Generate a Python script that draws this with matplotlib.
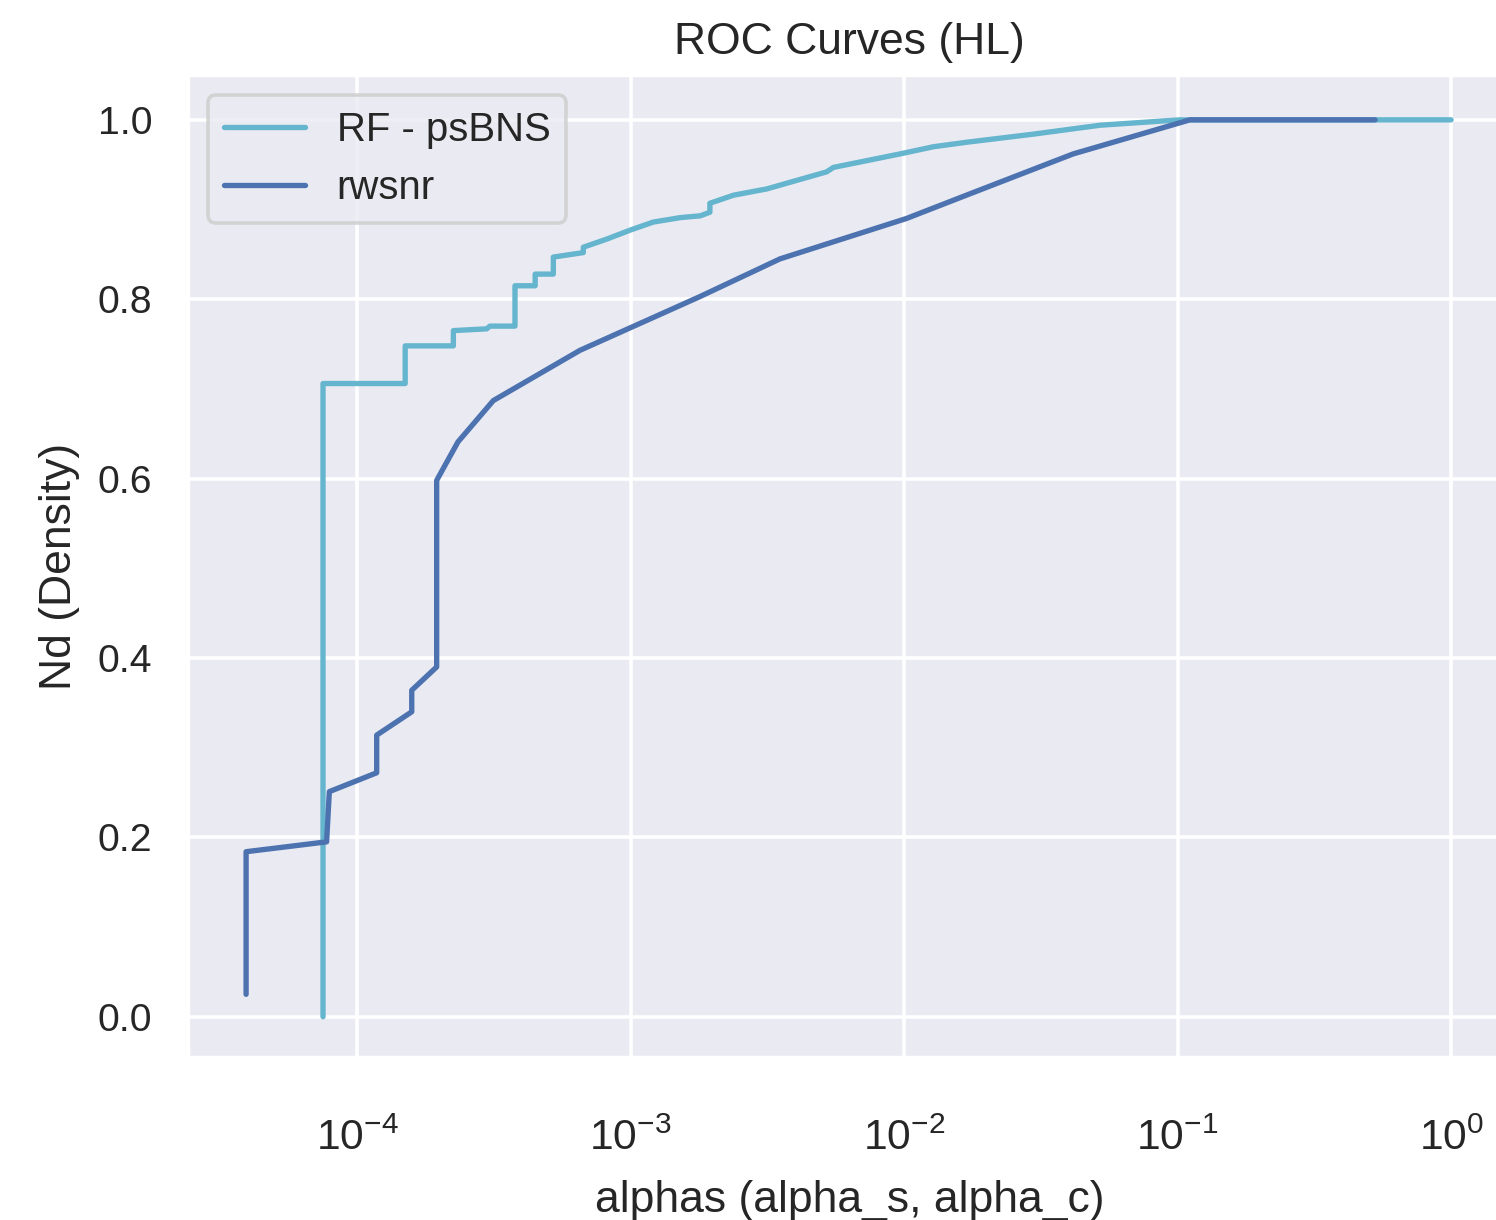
"""
ROC curves (HL): RF - psBNS vs rwsnr
"""
import numpy as np
import matplotlib
matplotlib.use('Agg')
import matplotlib.pyplot as plt
import seaborn as sns

# RF - psBNS curve (alpha, Nd)
rf_alpha = [7.51e-5, 7.51e-5, 1.50e-4, 1.50e-4, 2.25e-4, 2.25e-4, 2.98e-4, 3.06e-4,
            3.78e-4, 3.78e-4, 4.48e-4, 4.48e-4, 5.22e-4, 5.22e-4, 6.72e-4, 6.72e-4,
            8.18e-4, 9.96e-4, 1.21e-3, 1.52e-3, 1.80e-3, 1.95e-3, 1.95e-3, 2.38e-3,
            3.15e-3, 5.21e-3, 5.52e-3, 9.66e-3, 1.28e-2, 1.69e-2, 2.96e-2, 5.21e-2,
            0.102, 1.0]
rf_nd = [0.0, 0.706, 0.706, 0.748, 0.748, 0.765, 0.767, 0.770,
         0.770, 0.815, 0.815, 0.828, 0.828, 0.847, 0.852, 0.858,
         0.867, 0.877, 0.886, 0.891, 0.893, 0.897, 0.907, 0.916,
         0.923, 0.942, 0.947, 0.962, 0.970, 0.975, 0.984, 0.994,
         1.0, 1.0]

# rwsnr curve
rw_alpha = [3.93e-5, 3.93e-5, 7.74e-5, 7.92e-5, 1.18e-4, 1.18e-4, 1.585e-4, 1.585e-4,
            1.955e-4, 1.955e-4, 2.34e-4, 3.15e-4, 6.53e-4, 1.795e-3, 3.52e-3,
            1.02e-2, 1.69e-2, 4.15e-2, 0.111, 0.527]
rw_nd = [0.025, 0.184, 0.195, 0.251, 0.272, 0.314, 0.340, 0.364,
         0.390, 0.598, 0.641, 0.687, 0.743, 0.803, 0.845,
         0.890, 0.916, 0.962, 1.0, 1.0]

sns.set_theme(style='darkgrid')
plt.rcParams['font.family'] = ['Liberation Sans', 'DejaVu Sans']
plt.rcParams['axes.unicode_minus'] = False

DPI = 256
fig = plt.figure(figsize=(1496 / DPI, 1220 / DPI), dpi=DPI)
# axes runs slightly past the right edge, as in the cropped original
ax = fig.add_axes([188 / 1496, 1 - 1058 / 1220, (1511 - 188) / 1496, (1058 - 75) / 1220])

ax.plot(rf_alpha, rf_nd, color='#64B5CD', linewidth=1.5, label='RF - psBNS')
ax.plot(rw_alpha, rw_nd, color='#4C72B0', linewidth=1.5, label='rwsnr')

ax.set_xscale('log')
ax.set_xlim(10 ** -4.618, 10 ** 0.219)
ax.set_ylim(-0.046, 1.05)
ax.set_yticks([0.0, 0.2, 0.4, 0.6, 0.8, 1.0])
ax.minorticks_off()

ax.set_title('ROC Curves (HL)', fontsize=12.5, pad=6)
ax.set_xlabel('alphas (alpha_s, alpha_c)', fontsize=12.5, labelpad=6)
ax.set_ylabel('Nd (Density)', fontsize=12.5, labelpad=5)
ax.tick_params(axis='y', labelsize=11, length=0, pad=10)
ax.tick_params(axis='x', labelsize=12, length=0, pad=17)

ax.legend(loc='upper left', fontsize=11.3, handlelength=2.0)

fig.savefig('out.png', dpi=DPI)
